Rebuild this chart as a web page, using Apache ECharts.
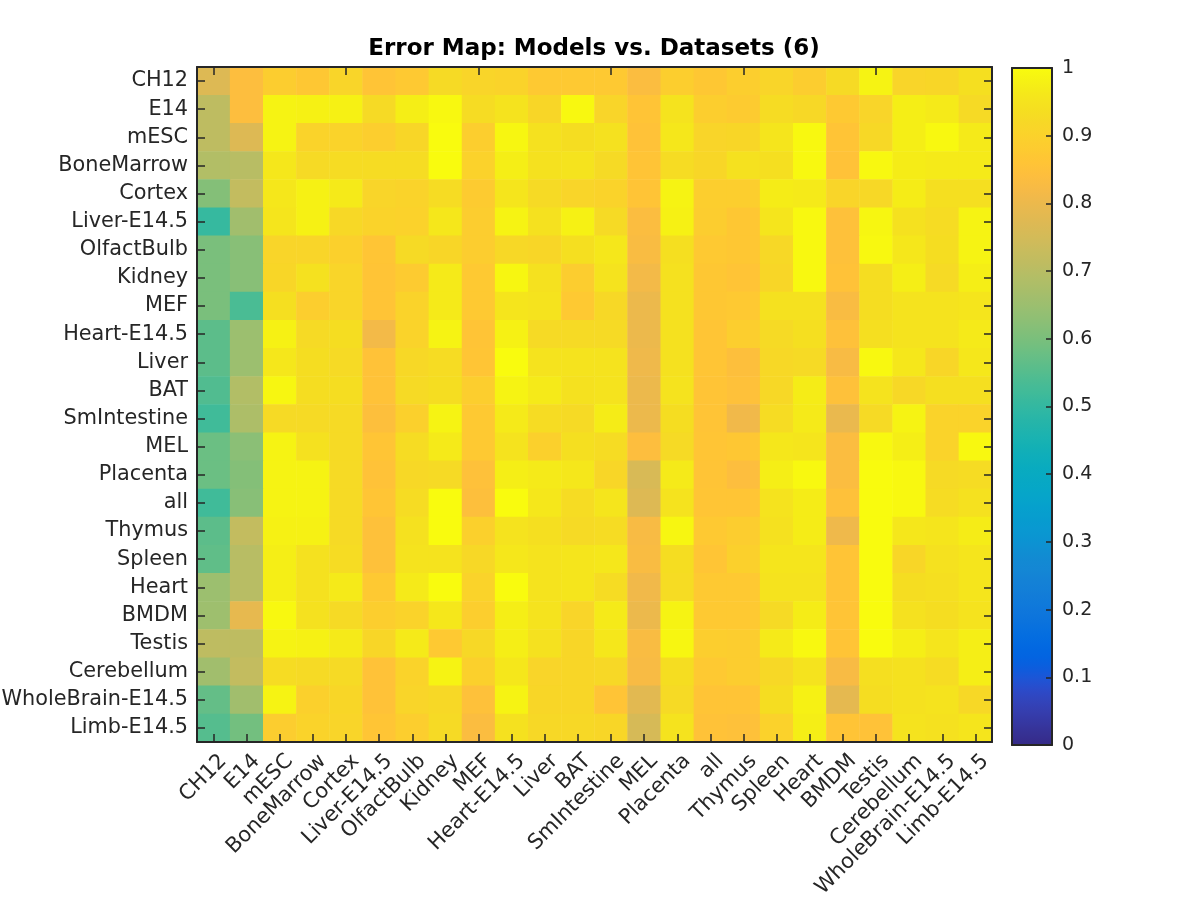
<!DOCTYPE html>
<html><head><meta charset="utf-8"><style>html,body{margin:0;padding:0;background:#fff}#c{width:1200px;height:900px}</style>
<script src="https://cdn.jsdelivr.net/npm/echarts@6/dist/echarts.min.js"></script></head><body><div id="c"></div>
<script>
const titleText = 'Error Map: Models vs. Datasets (6)';
const xLabels = ['CH12','E14','mESC','BoneMarrow','Cortex','Liver-E14.5','OlfactBulb','Kidney','MEF','Heart-E14.5','Liver','BAT','SmIntestine','MEL','Placenta','all','Thymus','Spleen','Heart','BMDM','Testis','Cerebellum','WholeBrain-E14.5','Limb-E14.5'];
const yLabels = xLabels.slice();
const errorRows = [
[.77,.84,.885,.87,.91,.86,.875,.925,.91,.905,.875,.875,.875,.835,.89,.87,.89,.91,.885,.925,.985,.91,.915,.94],
[.71,.84,.985,.98,.98,.925,.975,.995,.93,.95,.915,.995,.91,.86,.95,.89,.88,.93,.92,.875,.91,.975,.965,.925],
[.71,.77,.985,.905,.905,.89,.915,1,.89,.99,.945,.935,.945,.855,.96,.91,.915,.955,.995,.86,.92,.975,.995,.965],
[.69,.70,.96,.925,.93,.93,.93,1,.9,.975,.945,.95,.925,.86,.93,.915,.945,.94,.995,.855,.995,.97,.965,.965],
[.615,.72,.96,.98,.965,.91,.905,.93,.88,.955,.925,.91,.905,.86,.985,.89,.89,.97,.965,.91,.92,.97,.94,.94],
[.505,.66,.955,.98,.92,.905,.9,.96,.885,.985,.945,.98,.925,.835,.98,.885,.87,.955,.995,.85,.99,.945,.93,.985],
[.60,.62,.91,.91,.895,.865,.925,.915,.885,.92,.915,.94,.96,.83,.94,.875,.87,.92,.995,.85,.995,.96,.935,.985],
[.60,.62,.915,.945,.91,.86,.88,.965,.875,.99,.945,.885,.95,.815,.945,.87,.86,.915,.995,.855,.935,.975,.925,.975],
[.60,.535,.94,.89,.91,.86,.905,.965,.875,.955,.95,.875,.92,.80,.945,.87,.875,.945,.945,.83,.935,.95,.95,.955],
[.56,.65,.98,.925,.935,.815,.905,.985,.86,.98,.925,.925,.925,.80,.945,.865,.89,.925,.94,.85,.94,.95,.95,.965],
[.56,.65,.96,.935,.925,.855,.92,.93,.865,1,.95,.95,.95,.805,.945,.865,.845,.92,.925,.825,.995,.96,.915,.96],
[.545,.69,.99,.935,.935,.855,.925,.935,.89,.985,.965,.945,.95,.80,.95,.86,.85,.92,.97,.85,.95,.92,.94,.94],
[.52,.68,.925,.925,.925,.845,.895,.985,.875,.965,.93,.925,.97,.80,.935,.86,.81,.93,.965,.795,.925,.985,.905,.905],
[.58,.625,.985,.945,.925,.865,.93,.965,.875,.95,.895,.94,.93,.84,.925,.865,.87,.96,.955,.835,.995,.975,.905,.995],
[.58,.615,.985,.985,.925,.855,.92,.925,.85,.975,.965,.96,.915,.76,.965,.86,.84,.975,.995,.835,1,.995,.925,.93],
[.52,.62,.985,.985,.925,.865,.93,1,.845,1,.96,.93,.955,.77,.95,.865,.865,.95,.97,.85,1,.995,.93,.945],
[.56,.72,.98,.98,.925,.85,.945,1,.895,.95,.94,.925,.93,.825,.99,.875,.885,.945,.97,.805,1,.96,.955,.97],
[.565,.70,.975,.945,.93,.85,.95,.95,.92,.96,.95,.955,.96,.83,.935,.865,.895,.955,.955,.86,1,.915,.945,.955],
[.65,.70,.975,.945,.965,.875,.965,1,.905,1,.95,.955,.93,.81,.93,.875,.875,.95,.95,.86,1,.935,.94,.955],
[.655,.79,.995,.945,.925,.89,.905,.96,.89,.975,.95,.91,.965,.80,.985,.875,.875,.925,.97,.86,1,.945,.935,.95],
[.71,.71,.985,.98,.965,.915,.965,.875,.92,.975,.945,.915,.96,.83,.99,.89,.885,.965,.995,.86,1,.975,.955,.975],
[.66,.72,.93,.925,.925,.855,.905,.985,.895,.96,.91,.915,.92,.825,.935,.875,.885,.92,.95,.825,.94,.945,.93,.975],
[.57,.66,.985,.895,.915,.855,.91,.92,.85,.985,.915,.915,.86,.78,.925,.86,.86,.935,.98,.785,.935,.945,.95,.92],
[.55,.59,.885,.905,.91,.865,.89,.925,.835,.945,.92,.92,.915,.755,.95,.855,.85,.90,.975,.86,.855,.95,.945,.955]
];
const parula = [[.2081,.1663,.5292],[.2116,.1898,.5777],[.2123,.2138,.6270],[.2081,.2386,.6771],[.1959,.2645,.7279],[.1707,.2919,.7792],[.1253,.3242,.8303],[.0591,.3598,.8683],[.0117,.3875,.8820],[.0060,.4086,.8828],[.0165,.4266,.8786],[.0329,.4430,.8720],[.0498,.4586,.8641],[.0629,.4737,.8554],[.0723,.4887,.8467],[.0779,.5040,.8384],[.0793,.5200,.8312],[.0749,.5375,.8263],[.0641,.5570,.8240],[.0488,.5772,.8228],[.0343,.5966,.8199],[.0265,.6137,.8135],[.0239,.6287,.8038],[.0231,.6418,.7913],[.0228,.6535,.7768],[.0267,.6642,.7607],[.0384,.6743,.7436],[.0590,.6838,.7254],[.0843,.6928,.7062],[.1133,.7015,.6859],[.1453,.7098,.6646],[.1801,.7177,.6424],[.2178,.7250,.6193],[.2586,.7317,.5954],[.3022,.7376,.5712],[.3482,.7424,.5473],[.3953,.7459,.5244],[.4420,.7481,.5033],[.4871,.7491,.4840],[.5300,.7491,.4661],[.5709,.7485,.4494],[.6099,.7473,.4337],[.6473,.7456,.4188],[.6834,.7435,.4044],[.7184,.7411,.3905],[.7525,.7384,.3768],[.7858,.7356,.3633],[.8185,.7327,.3498],[.8507,.7299,.3360],[.8824,.7274,.3217],[.9139,.7258,.3063],[.9450,.7261,.2886],[.9739,.7314,.2666],[.9938,.7455,.2403],[.9990,.7653,.2164],[.9955,.7861,.1967],[.9880,.8066,.1794],[.9789,.8271,.1633],[.9697,.8481,.1475],[.9626,.8705,.1309],[.9589,.8949,.1132],[.9598,.9218,.0948],[.9661,.9514,.0755],[.9763,.9831,.0538]];
const colors = parula.map(c=>'rgb('+c.map(v=>Math.round(v*255)).join(',')+')');
const cells = [];
errorRows.forEach((r,i)=>r.forEach((v,j)=>cells.push([j,i,v])));
const font='"DejaVu Sans"', ink='#262626';
const line={show:true,onZero:false,lineStyle:{color:ink,width:2}};
const tick={show:true,inside:true,length:8,alignWithLabel:true,lineStyle:{color:ink,width:1.5}};
const chart=echarts.init(document.getElementById('c'),null,{renderer:'canvas'});
chart.setOption({
 animation:false,backgroundColor:'#fff',
 title:{text:titleText,left:589,top:33,textAlign:'center',textStyle:{fontFamily:font,fontSize:23,fontWeight:'bold',color:'#000'}},
 grid:[{left:197,right:208,top:67,bottom:158,outerBoundsMode:'none'},{left:1012,width:40,top:68,height:677,outerBoundsMode:'none'}],
 xAxis:[
  {type:'category',data:xLabels,gridIndex:0,position:'bottom',z:10,axisLine:line,axisTick:tick,splitLine:{show:false},
   axisLabel:{interval:0,rotate:45,margin:6,verticalAlign:'top',lineHeight:28,fontFamily:font,fontSize:21,color:ink}},
  {type:'category',data:xLabels,gridIndex:0,position:'top',z:10,axisLine:line,axisTick:tick,axisLabel:{show:false}},
  {type:'value',min:0,max:1,gridIndex:1,position:'bottom',z:10,axisLine:line,axisTick:{show:false},axisLabel:{show:false},splitLine:{show:false}},
  {type:'value',min:0,max:1,gridIndex:1,position:'top',z:10,axisLine:line,axisTick:{show:false},axisLabel:{show:false},splitLine:{show:false}}
 ],
 yAxis:[
  {type:'category',data:yLabels,inverse:true,gridIndex:0,position:'left',z:10,axisLine:line,axisTick:tick,splitLine:{show:false},
   axisLabel:{interval:0,margin:9,padding:[2,0,0,0],fontFamily:font,fontSize:20.8,color:ink}},
  {type:'category',data:yLabels,inverse:true,gridIndex:0,position:'right',z:10,axisLine:line,axisTick:tick,axisLabel:{show:false}},
  {type:'value',min:0,max:1,interval:0.1,gridIndex:1,position:'right',z:10,axisLine:line,axisTick:{show:true,inside:true,length:6,lineStyle:{color:ink,width:1.5}},splitLine:{show:false},
   axisLabel:{margin:10,padding:[2,0,0,0],fontFamily:font,fontSize:19,color:ink,formatter:v=>String(+v.toFixed(1))}},
  {type:'value',min:0,max:1,gridIndex:1,position:'left',z:10,axisLine:line,axisTick:{show:false},axisLabel:{show:false},splitLine:{show:false}}
 ],
 visualMap:{type:'continuous',seriesIndex:0,min:0,max:1,calculable:false,realtime:false,left:1012,top:68,itemWidth:40,itemHeight:677,padding:0,text:null,showLabel:false,inRange:{color:colors},orient:'vertical',z:1,hoverLink:false},
 series:[{type:'heatmap',xAxisIndex:0,yAxisIndex:0,data:cells,progressive:0,itemStyle:{borderWidth:0},emphasis:{disabled:true}}]
});
</script></body></html>
